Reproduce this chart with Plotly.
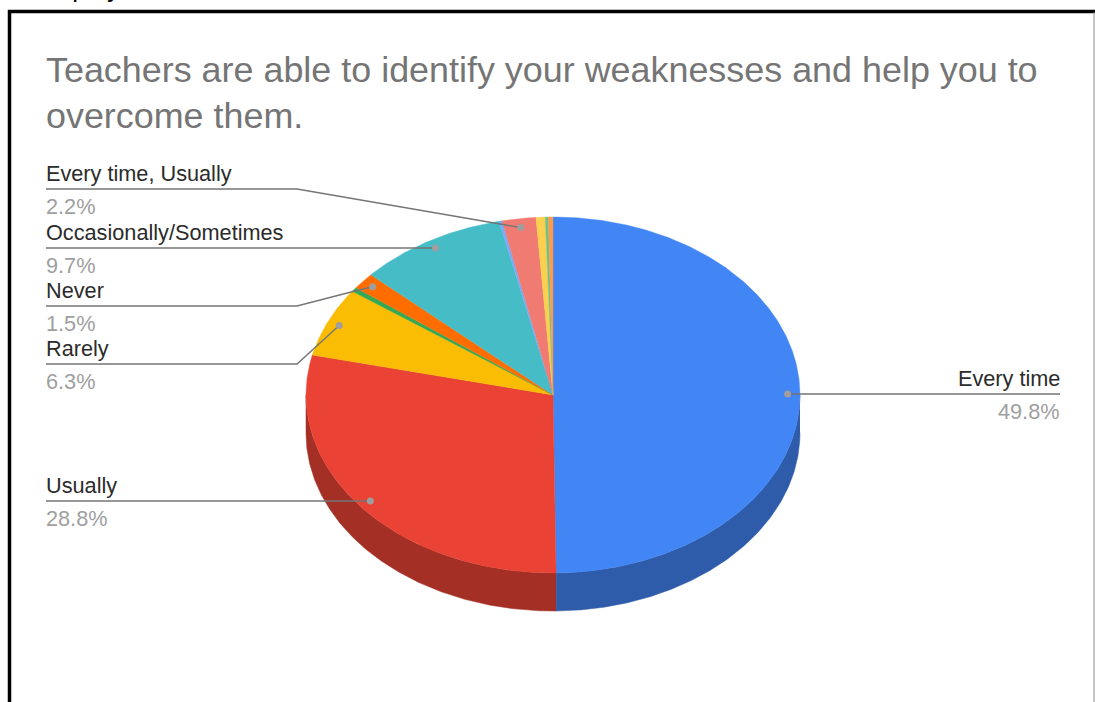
import numpy as np
import plotly.graph_objects as go

# ---- data (percent, clockwise from 12 o'clock) ----
SLICE_NAMES = ["Every time", "Usually", "Rarely", "", "Never", "Occasionally/Sometimes",
               "", "Every time, Usually", "", "", ""]
SLICE_VALUES = [49.8, 28.8, 6.3, 0.4, 1.5, 9.7, 0.2, 2.2, 0.6, 0.2, 0.3]
SLICE_COLORS = ["#4285f4", "#ea4335", "#fbbc04", "#34a853", "#ff6d01", "#46bdc6",
                "#7baaf7", "#f07b72", "#fcd04f", "#71c287", "#ff994d"]
SIDE_COLORS = {"Every time": "#2e5cab", "Usually": "#a42f25"}

TITLE_LINE_1 = "Teachers are able to identify your weaknesses and help you to"
TITLE_LINE_2 = "overcome them."

# ---- geometry of the drawing (pixel-mapped hidden axes) ----
W, H = 1095, 702
CX, CY, RX, RY, DEPTH = 553, 395, 247, 178, 38
DOT_R = 0.95
LABEL_SIZE = 21.7
TITLE_SIZE = 35.9
TITLE_COLOR = "#757575"
FONT = "Liberation Sans, Arial, sans-serif"

# label name -> (side, text x, leader y, bend points between the rule and the dot)
LABELS = {
    "Every time": ("right", 1060, 394, []),
    "Usually": ("left", 46, 501, []),
    "Rarely": ("left", 46, 364, [(297, 364)]),
    "Never": ("left", 46, 306, [(297, 306), (355, 291)]),
    "Occasionally/Sometimes": ("left", 46, 248, []),
    "Every time, Usually": ("left", 46, 189, [(297, 189), (500, 224)]),
}


def pt(frac, r=1.0, dy=0.0):
    a = 2 * np.pi * np.asarray(frac)
    return CX + RX * r * np.sin(a), CY - RY * r * np.cos(a) + dy


fig = go.Figure()
edges = np.cumsum([0] + SLICE_VALUES) / sum(SLICE_VALUES)

# extruded wall: only the front half of the rim is visible
for name, f0, f1, in zip(SLICE_NAMES, edges[:-1], edges[1:]):
    if name not in SIDE_COLORS:
        continue
    lo, hi = max(f0, 0.25), min(f1, 0.75)
    t = np.linspace(lo, hi, 160)
    x0, y0 = pt(t)
    x1, y1 = pt(t[::-1], dy=DEPTH)
    fig.add_trace(go.Scatter(x=np.r_[x0, x1], y=np.r_[y0, y1], mode="lines", fill="toself",
                             fillcolor=SIDE_COLORS[name], line=dict(color=SIDE_COLORS[name], width=0.5),
                             hoverinfo="skip", showlegend=False))

# top face
for name, color, f0, f1 in zip(SLICE_NAMES, SLICE_COLORS, edges[:-1], edges[1:]):
    t = np.linspace(f0, f1, max(3, int((f1 - f0) * 720)))
    x, y = pt(t)
    fig.add_trace(go.Scatter(x=np.r_[CX, x, CX], y=np.r_[CY, y, CY], mode="lines", fill="toself",
                             fillcolor=color, line=dict(color=color, width=0.4),
                             name=name or "other", hoverinfo="skip", showlegend=False))

annotations = []
for name, val, f0, f1 in zip(SLICE_NAMES, SLICE_VALUES, edges[:-1], edges[1:]):
    if name not in LABELS:
        continue
    side, tx, ly, bends = LABELS[name]
    dx, dy = pt((f0 + f1) / 2, DOT_R)
    dx, dy = float(dx), float(dy)
    xs = [tx] + [b[0] for b in bends] + [dx]
    ys = [ly] + [b[1] for b in bends] + [dy if bends else ly]
    fig.add_trace(go.Scatter(x=xs, y=ys, mode="lines", line=dict(color="#757575", width=1.4),
                             hoverinfo="skip", showlegend=False))
    fig.add_trace(go.Scatter(x=[dx], y=[dy if bends else ly], mode="markers",
                             marker=dict(color="#9e9e9e", size=7),
                             hoverinfo="skip", showlegend=False))
    anchor = "left" if side == "left" else "right"
    tx_text = tx - 1 if side == "left" else tx + 1
    annotations.append(dict(x=tx_text, y=ly - 2, text=name, showarrow=False, xanchor=anchor, yanchor="bottom",
                            xref="x", yref="y", borderpad=0, font=dict(size=LABEL_SIZE, color="#2b2b2b")))
    annotations.append(dict(x=tx_text, y=ly + 4, text=f"{val}%", showarrow=False, xanchor=anchor, yanchor="top",
                            xref="x", yref="y", borderpad=0, font=dict(size=LABEL_SIZE, color="#a0a0a0")))

# the title lines are placed separately so the line pitch matches
annotations.append(dict(x=45, y=137, text=TITLE_LINE_2, showarrow=False, xanchor="left", yanchor="bottom",
                        xref="x", yref="y", borderpad=0, font=dict(size=TITLE_SIZE, color=TITLE_COLOR)))
annotations.append(dict(x=45, y=91.5, text=TITLE_LINE_1, showarrow=False, xanchor="left", yanchor="bottom",
                        xref="x", yref="y", borderpad=0, font=dict(size=TITLE_SIZE, color=TITLE_COLOR)))

# frame of the screenshot and the clipped line of text above it
shapes = [
    dict(type="line", x0=9.5, x1=9.5, y0=10, y1=H, line=dict(color="black", width=3.5), layer="above"),
    dict(type="line", x0=8, x1=W, y0=11.5, y1=11.5, line=dict(color="black", width=3.5), layer="above"),
    dict(type="line", x0=1094, x1=1094, y0=12, y1=H, line=dict(color="#8a8a8a", width=1), layer="above"),
]
annotations.append(dict(x=38, y=2, text="display", showarrow=False, xanchor="left", yanchor="bottom",
                        xref="x", yref="y", yshift=-2, borderpad=0, font=dict(size=26, color="black")))

fig.update_layout(
    width=W, height=H, margin=dict(l=0, r=0, t=0, b=0),
    paper_bgcolor="white", plot_bgcolor="white", showlegend=False,
    xaxis=dict(range=[0, W], visible=False, fixedrange=True),
    yaxis=dict(range=[H, 0], visible=False, fixedrange=True),
    shapes=shapes, annotations=annotations,
    font=dict(family=FONT),
)

fig.write_html("out.html", config=dict(displayModeBar=False),
               post_script="document.body.style.margin='0';document.body.style.overflow='hidden';")
